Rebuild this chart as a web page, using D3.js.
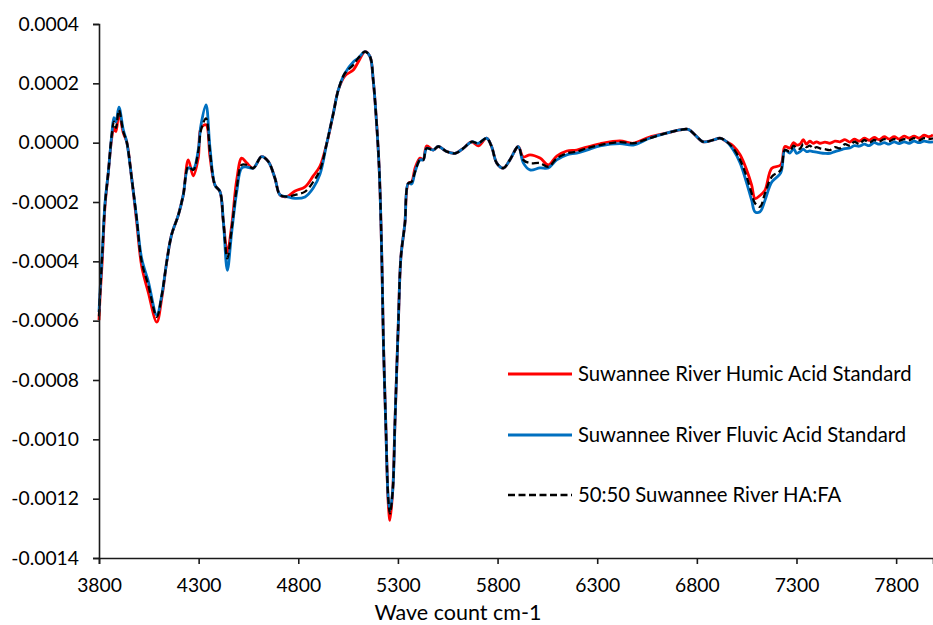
<!DOCTYPE html>
<html>
<head>
<meta charset="utf-8">
<script src="https://cdn.jsdelivr.net/npm/d3@7"></script>
<style>
  body { margin: 0; background: #fff; }
  svg { display: block; }
  text { font-family: Lato, "Open Sans", sans-serif; fill: #000; }
</style>
</head>
<body>
<svg id="chart" width="933" height="625"></svg>
<script>
// Wave count (cm-1)
const waveCount = [3800,3805,3817,3830,3847,3864,3875,3885,3900,3922,3939,3964,3989,4014,4047,4090,4115,4140,4164,4198,4223,4248,4273,4298,4312,4337,4357,4382,4407,4424,4444,4466,4491,4516,4541,4574,4616,4650,4683,4708,4742,4784,4834,4875,4909,4943,4976,5001,5034,5076,5101,5135,5160,5176,5193,5207,5219,5227,5239,5252,5260,5274,5285,5302,5315,5335,5352,5369,5386,5411,5427,5444,5477,5503,5545,5587,5628,5670,5703,5745,5770,5796,5829,5862,5904,5929,5963,6013,6055,6097,6147,6197,6247,6314,6414,6481,6563,6647,6714,6757,6791,6832,6883,6916,6950,6983,7017,7050,7075,7092,7117,7142,7176,7221,
  7242,7267,7285,7301,7318,7334,7350,7367,7384,7401,7418,7443,7468,7493,7518,7543,7568,7590,7615,7640,7665,7690,7715,7740,7765,7790,7815,7840,7865,7890,7915,7940,7965,7985];

// values in units of 1e-4
const humicAcid = [-5.98,-5.24,-3.89,-2.15,-0.98,0.16,0.50,0.37,1.00,0.33,0.03,-1.20,-2.67,-4.16,-5.04,-6.05,-5.24,-4.01,-3.11,-2.44,-1.76,-0.58,-1.12,-0.52,0.50,0.60,-0.48,-1.43,-1.65,-2.66,-3.69,-2.78,-1.26,-0.52,-0.68,-0.86,-0.47,-0.64,-1.20,-1.76,-1.82,-1.63,-1.49,-1.12,-0.79,-0.02,0.99,1.78,2.25,2.45,2.72,3.07,2.90,2.11,0.65,-1.03,-3.85,-6.65,-9.47,-12.22,-12.73,-11.71,-9.47,-6.09,-3.85,-2.72,-1.37,-1.32,-0.85,-0.52,-0.58,-0.11,-0.25,-0.13,-0.30,-0.36,-0.19,0.03,-0.11,0.15,-0.13,-0.69,-0.86,-0.58,-0.13,-0.48,-0.41,-0.52,-0.75,-0.45,-0.28,-0.25,-0.15,-0.04,0.06,-0.02,0.19,0.32,0.43,0.45,0.26,0.03,0.09,0.15,0.03,-0.11,-0.41,-0.92,-1.43,-1.88,-1.78,-1.60,-0.86,-0.75,
  -0.13,-0.18,0.00,-0.08,-0.05,0.10,-0.05,0.05,-0.02,0.03,-0.02,0.02,-0.02,0.05,0.03,0.10,0.02,0.12,0.05,0.15,0.08,0.18,0.10,0.20,0.12,0.20,0.12,0.22,0.15,0.22,0.15,0.25,0.20,0.26];

const fulvicAcid = [-5.71,-5.04,-3.62,-2.05,-0.98,0.26,0.84,0.70,1.20,0.43,0.03,-1.20,-2.55,-3.90,-4.67,-5.81,-5.14,-4.01,-3.11,-2.44,-1.76,-0.85,-0.89,-0.25,0.60,1.27,-0.18,-1.43,-1.65,-2.66,-4.30,-3.01,-1.66,-0.85,-0.82,-0.86,-0.47,-0.64,-1.20,-1.76,-1.82,-1.88,-1.83,-1.53,-1.06,-0.02,0.99,1.78,2.34,2.72,2.85,3.07,2.90,2.11,0.65,-1.03,-3.85,-6.65,-9.47,-12.05,-12.39,-11.71,-9.47,-6.09,-3.85,-2.72,-1.37,-1.39,-0.98,-0.58,-0.58,-0.19,-0.25,-0.13,-0.30,-0.36,-0.19,0.03,-0.02,0.15,-0.13,-0.69,-0.86,-0.58,-0.13,-0.68,-0.92,-0.85,-0.85,-0.58,-0.41,-0.35,-0.25,-0.11,-0.03,-0.08,0.15,0.32,0.43,0.45,0.26,0.03,0.09,0.15,0.03,-0.25,-0.68,-1.36,-1.94,-2.33,-2.33,-1.94,-1.33,-1.02,
  -0.25,-0.35,-0.20,-0.36,-0.30,-0.22,-0.30,-0.28,-0.30,-0.32,-0.34,-0.36,-0.36,-0.30,-0.25,-0.20,-0.18,-0.10,-0.12,-0.05,-0.10,0.00,-0.05,0.00,-0.05,0.03,-0.03,0.03,-0.02,0.05,0.00,0.05,0.02,0.03];

const mixHAFA = [-5.85,-5.14,-3.68,-2.10,-0.98,0.26,0.71,0.50,1.10,0.37,0.03,-1.20,-2.55,-4.01,-4.80,-5.87,-5.14,-4.01,-3.11,-2.44,-1.76,-0.81,-0.92,-0.30,0.43,0.82,-0.30,-1.43,-1.65,-2.66,-3.90,-2.89,-1.54,-0.75,-0.75,-0.86,-0.47,-0.64,-1.20,-1.76,-1.82,-1.76,-1.65,-1.32,-0.92,-0.02,0.99,1.78,2.34,2.62,2.85,3.07,2.90,2.11,0.65,-1.03,-3.85,-6.65,-9.47,-12.05,-12.50,-11.71,-9.47,-6.09,-3.85,-2.72,-1.37,-1.32,-0.98,-0.58,-0.58,-0.19,-0.25,-0.13,-0.30,-0.36,-0.19,0.03,-0.02,0.15,-0.13,-0.69,-0.86,-0.58,-0.13,-0.58,-0.69,-0.69,-0.81,-0.53,-0.36,-0.30,-0.19,-0.08,0.02,-0.02,0.15,0.32,0.43,0.45,0.26,0.03,0.09,0.15,0.03,-0.19,-0.58,-1.15,-1.71,-2.04,-2.16,-1.71,-1.15,-0.92,
  -0.25,-0.30,-0.10,-0.19,-0.20,-0.05,-0.15,-0.10,-0.19,-0.15,-0.19,-0.22,-0.25,-0.15,-0.19,-0.05,-0.10,0.03,-0.05,0.09,0.00,0.09,0.03,0.12,0.05,0.12,0.06,0.12,0.08,0.15,0.08,0.15,0.12,0.15];

const yTicks = [0.0004,0.0002,0.0000,-0.0002,-0.0004,-0.0006,-0.0008,-0.0010,-0.0012,-0.0014];
const xTicks = [3800,4300,4800,5300,5800,6300,6800,7300,7800];
const seriesNames = ["Suwannee River Humic Acid Standard","Suwannee River Fluvic Acid Standard","50:50 Suwannee River HA:FA"];
const seriesColors = ["#FF0000","#0070C0","#000000"];

const svg = d3.select("#chart");
const mLeft = 99, mRight = 933, mTop = 24, mBottom = 558;

const x = d3.scaleLinear().domain([3800, 7985]).range([mLeft, mRight]);
const y = d3.scaleLinear().domain([-0.0014, 0.0004]).range([mBottom, mTop]);

const n = Math.min(waveCount.length, humicAcid.length, fulvicAcid.length, mixHAFA.length);
const series = [humicAcid, fulvicAcid, mixHAFA].map((vals, i) => ({
  name: seriesNames[i], color: seriesColors[i],
  points: waveCount.slice(0, n).map((w, j) => [w, vals[j] * 1e-4])
}));

const line = d3.line().x(d => x(d[0])).y(d => y(d[1])).curve(d3.curveCatmullRom.alpha(0.5));

series.forEach((s, i) => {
  svg.append("path")
    .attr("d", line(s.points))
    .attr("fill", "none")
    .attr("stroke", s.color)
    .attr("stroke-width", i === 2 ? 2.3 : 2.8)
    .attr("stroke-dasharray", i === 2 ? "7,3.5" : null)
    .attr("stroke-linejoin", "round");
});

// Y axis
const yAxis = d3.axisLeft(y).tickValues(yTicks).tickSize(6).tickPadding(14)
  .tickFormat(d => d3.format(".4f")(d).replace("\u2212", "-"));
const gy = svg.append("g").attr("transform", `translate(${mLeft},0)`).call(yAxis);
gy.select(".domain").attr("stroke", "#1a1a1a").attr("stroke-width", 1.6);
gy.selectAll(".tick line").attr("stroke", "#1a1a1a").attr("stroke-width", 1.6);
gy.selectAll("text").style("font-size", "19.3px").attr("fill", "#000");

// X axis
const xAxis = d3.axisBottom(x).tickValues(xTicks).tickSize(6).tickPadding(14).tickFormat(d3.format("d"));
const gx = svg.append("g").attr("transform", `translate(0,${mBottom})`).call(xAxis);
gx.select(".domain").attr("stroke", "#1a1a1a").attr("stroke-width", 1.6);
gx.selectAll(".tick line").attr("stroke", "#1a1a1a").attr("stroke-width", 1.6);
gx.selectAll("text").style("font-size", "19.3px").attr("fill", "#000");

svg.append("text").attr("x", 458).attr("y", 620).attr("text-anchor", "middle")
  .style("font-size", "21.5px").text("Wave count cm-1");

// Legend
const legY = [374, 435, 495];
series.forEach((s, i) => {
  svg.append("line").attr("x1", 508).attr("x2", 572).attr("y1", legY[i]).attr("y2", legY[i])
    .attr("stroke", s.color).attr("stroke-width", i === 2 ? 2.3 : 2.8)
    .attr("stroke-dasharray", i === 2 ? "7,3.5" : null);
  svg.append("text").attr("x", 578).attr("y", legY[i] + 7).style("font-size", "20.3px").text(s.name);
});
</script>
</body>
</html>
